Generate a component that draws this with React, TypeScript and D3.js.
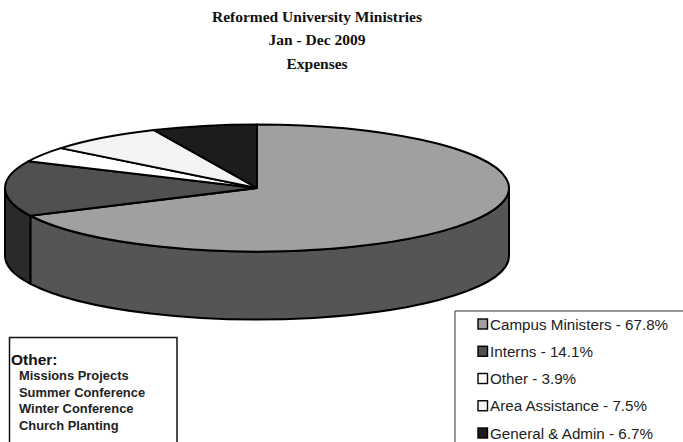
import React from "react";
import * as d3 from "d3";

const titleLines = ["Reformed University Ministries", "Jan - Dec 2009", "Expenses"];
const categories = ["Campus Ministers", "Interns", "Other", "Area Assistance", "General & Admin"];
const shares = [67.8, 14.1, 3.9, 7.5, 6.7];
const topColors = ["#a0a0a0", "#505050", "#ffffff", "#f3f3f3", "#1c1c1c"];
const wallColors = ["#555555", "#2a2a2a", "#cccccc", "#c0c0c0", "#111111"];
const otherTitle = "Other:";
const otherItems = ["Missions Projects", "Summer Conference", "Winter Conference", "Church Planting"];

const W = 683, H = 442;
const cx = 257, cy = 188, rx = 252, ry = 63.5, depth = 68;
const sx = d3.scaleLinear().domain([-1, 1]).range([cx - rx, cx + rx]);
const sy = d3.scaleLinear().domain([-1, 1]).range([cy - ry, cy + ry]);
const px = (a: number) => sx(Math.sin(a));
const py = (a: number) => sy(-Math.cos(a));

const arcs = d3.pie<number>().sort(null)(shares);

function topPath(a0: number, a1: number) {
  const large = a1 - a0 > Math.PI ? 1 : 0;
  return `M${cx},${cy}L${px(a0)},${py(a0)}A${rx},${ry} 0 ${large} 1 ${px(a1)},${py(a1)}Z`;
}
function wallPath(a0: number, a1: number) {
  const s = Math.max(a0, Math.PI / 2), e = Math.min(a1, (3 * Math.PI) / 2);
  if (e <= s) return null;
  return `M${px(s)},${py(s)}A${rx},${ry} 0 0 1 ${px(e)},${py(e)}L${px(e)},${py(e) + depth}A${rx},${ry} 0 0 0 ${px(s)},${py(s) + depth}Z`;
}

const legendY = d3.scalePoint<string>().domain(categories).range([324, 433]);
const otherY = d3.scalePoint<string>().domain(otherItems).range([380, 430]);

export default function App() {
  return (
    <svg width={W} height={H} viewBox={`0 0 ${W} ${H}`}
      style={{ position: "absolute", left: 0, top: 0, background: "#fff" }}>
      {titleLines.map((t, i) => (
        <text key={t} x={317} y={[22, 45, 69][i]} textAnchor="middle"
          fontFamily="'Liberation Serif'" fontWeight="bold" fontSize={15.5} fill="#111">{t}</text>
      ))}
      {arcs.map((d, i) => {
        const p = wallPath(d.startAngle, d.endAngle);
        return p && <path key={i} d={p} fill={wallColors[i]} stroke="#000" strokeWidth={2} strokeLinejoin="round" />;
      })}
      {arcs.map((d, i) => (
        <path key={i} d={topPath(d.startAngle, d.endAngle)} fill={topColors[i]} stroke="#000" strokeWidth={2} strokeLinejoin="round" />
      ))}

      <path d={`M9.5,${H}V337.5H177V${H}`} fill="#fff" stroke="#111" strokeWidth={1.5} />
      <text x={11} y={365} fontFamily="'Liberation Sans'" fontWeight="bold" fontSize={15.5} fill="#111">{otherTitle}</text>
      {otherItems.map((t) => (
        <text key={t} x={19} y={otherY(t)} fontFamily="'Liberation Sans'" fontWeight="bold" fontSize={12.9} fill="#222">{t}</text>
      ))}

      <path d={`M${W},311H455V${H}`} fill="#fff" stroke="#333" strokeWidth={1} />
      {categories.map((c, i) => {
        const y = legendY(c)!;
        return (
          <g key={c}>
            <rect x={478} y={y - 5} width={9.5} height={10} fill={topColors[i]} stroke="#000" strokeWidth={1.4} />
            <text x={490} y={y + 5.5} fontFamily="'Liberation Sans'" fontSize={15.2} fill="#222">
              {`${c} - ${shares[i]}%`}
            </text>
          </g>
        );
      })}
    </svg>
  );
}
